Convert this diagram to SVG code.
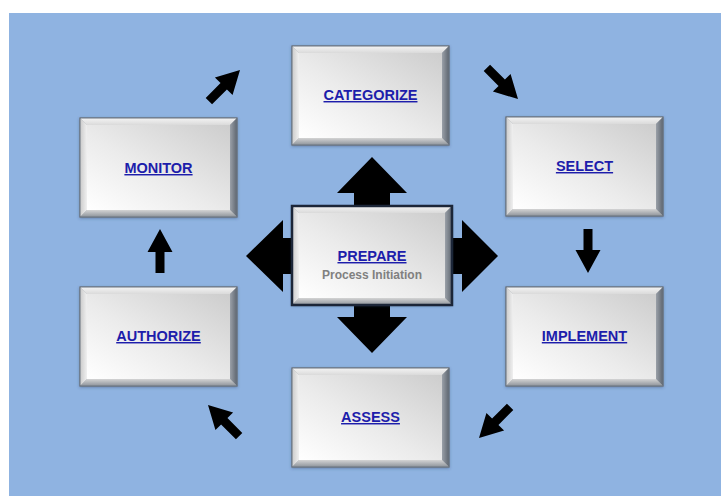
<svg xmlns="http://www.w3.org/2000/svg" xmlns:xlink="http://www.w3.org/1999/xlink" width="721" height="496" viewBox="0 0 721 496">
  <style>
    .lbl { font-family: "Liberation Sans", Arial, sans-serif; font-weight: bold; font-size: 14.5px; fill: #1d1dab; text-decoration: underline; text-anchor: middle; }
    .sub { font-family: "Liberation Sans", Arial, sans-serif; font-weight: bold; font-size: 12px; fill: #808080; text-anchor: middle; }
    .arrow { fill: #000; }
  </style>
  <defs>
    <linearGradient id="face" x1="1" y1="0" x2="0" y2="1">
      <stop offset="0" stop-color="#cdcdcd"/>
      <stop offset="0.55" stop-color="#ebebeb"/>
      <stop offset="1" stop-color="#ffffff"/>
    </linearGradient>
    <linearGradient id="bevTop" x1="0" y1="0" x2="0" y2="1">
      <stop offset="0" stop-color="#f4f4f4"/>
      <stop offset="1" stop-color="#dadada"/>
    </linearGradient>
    <linearGradient id="bevLeft" x1="0" y1="0" x2="1" y2="0">
      <stop offset="0" stop-color="#cacaca"/>
      <stop offset="1" stop-color="#f0f0f0"/>
    </linearGradient>
    <linearGradient id="bevRight" x1="0" y1="0" x2="1" y2="0">
      <stop offset="0" stop-color="#9aa0a8"/>
      <stop offset="1" stop-color="#5e6670"/>
    </linearGradient>
    <linearGradient id="bevBottom" x1="0" y1="0" x2="0" y2="1">
      <stop offset="0" stop-color="#d4d4d4"/>
      <stop offset="1" stop-color="#8d939a"/>
    </linearGradient>
    <filter id="shadow" x="-10%" y="-10%" width="120%" height="120%">
      <feDropShadow dx="0" dy="1" stdDeviation="1.5" flood-color="#2a3f66" flood-opacity="0.45"/>
    </filter>
    <!-- bevelled button, 157 x 99 -->
    <g id="btn">
      <rect x="0" y="0" width="157" height="99" fill="#a0a6ad" stroke="#6b7580" stroke-width="1" filter="url(#shadow)"/>
      <polygon points="0,0 157,0 150,7 7,7" fill="url(#bevTop)"/>
      <polygon points="0,0 7,7 7,92 0,99" fill="url(#bevLeft)"/>
      <polygon points="157,0 157,99 150,92 150,7" fill="url(#bevRight)"/>
      <polygon points="0,99 7,92 150,92 157,99" fill="url(#bevBottom)"/>
      <rect x="7" y="7" width="143" height="85" fill="url(#face)"/>
      <rect x="0" y="0" width="157" height="99" fill="none" stroke="#6b7580" stroke-width="1"/>
    </g>
    <!-- small block arrow, tip at origin, pointing up -->
    <polygon id="arw" class="arrow" points="0,0 12.5,23 4.5,23 4.5,44 -4.5,44 -4.5,23 -12.5,23"/>
  </defs>

  <!-- backdrop -->
  <rect x="0" y="0" width="721" height="496" fill="#ffffff"/>
  <rect x="9" y="13" width="712" height="483" fill="#8fb3e1"/>

  <g id="connectors">
    <!-- four-way arrows out of the central step -->
    <polygon class="arrow" points="354,212 354,193 337,193 372,157 407,193 390,193 390,212"/>
    <polygon class="arrow" points="354,298 354,317 337,317 372,353 407,317 390,317 390,298"/>
    <polygon class="arrow" points="298,238 283,238 283,220 246,256 283,292 283,274 298,274"/>
    <polygon class="arrow" points="446,238 462,238 462,220 498,256 462,292 462,274 446,274"/>
    <!-- cycle arrows -->
    <use xlink:href="#arw" transform="translate(240,70) rotate(45)"/>
    <use xlink:href="#arw" transform="translate(518,99) rotate(135)"/>
    <use xlink:href="#arw" transform="translate(588,273) rotate(180)"/>
    <use xlink:href="#arw" transform="translate(479,438) rotate(225)"/>
    <use xlink:href="#arw" transform="translate(208,405) rotate(-45)"/>
    <use xlink:href="#arw" transform="translate(160,229)"/>
  </g>

  <g id="categorize">
    <use xlink:href="#btn" x="292" y="46"/>
    <text class="lbl" x="370.5" y="100">CATEGORIZE</text>
  </g>
  <g id="select">
    <use xlink:href="#btn" x="506" y="117"/>
    <text class="lbl" x="584.5" y="171">SELECT</text>
  </g>
  <g id="implement">
    <use xlink:href="#btn" x="506" y="287"/>
    <text class="lbl" x="584.5" y="341">IMPLEMENT</text>
  </g>
  <g id="assess">
    <use xlink:href="#btn" x="292" y="368"/>
    <text class="lbl" x="370.5" y="422">ASSESS</text>
  </g>
  <g id="authorize">
    <use xlink:href="#btn" x="80" y="287"/>
    <text class="lbl" x="158.5" y="341">AUTHORIZE</text>
  </g>
  <g id="monitor">
    <use xlink:href="#btn" x="80" y="118"/>
    <text class="lbl" x="158.5" y="173">MONITOR</text>
  </g>

  <g id="prepare">
    <g transform="translate(292,206)">
      <rect x="0" y="0" width="160" height="99" fill="#a0a6ad" filter="url(#shadow)"/>
      <polygon points="0,0 160,0 153,7 7,7" fill="url(#bevTop)"/>
      <polygon points="0,0 7,7 7,92 0,99" fill="url(#bevLeft)"/>
      <polygon points="160,0 160,99 153,92 153,7" fill="url(#bevRight)"/>
      <polygon points="0,99 7,92 153,92 160,99" fill="url(#bevBottom)"/>
      <rect x="7" y="7" width="146" height="85" fill="url(#face)"/>
      <rect x="0" y="0" width="160" height="99" fill="none" stroke="#1c2638" stroke-width="2.5"/>
    </g>
    <text class="lbl" x="372" y="261">PREPARE</text>
    <text class="sub" x="372" y="279">Process Initiation</text>
  </g>
</svg>
